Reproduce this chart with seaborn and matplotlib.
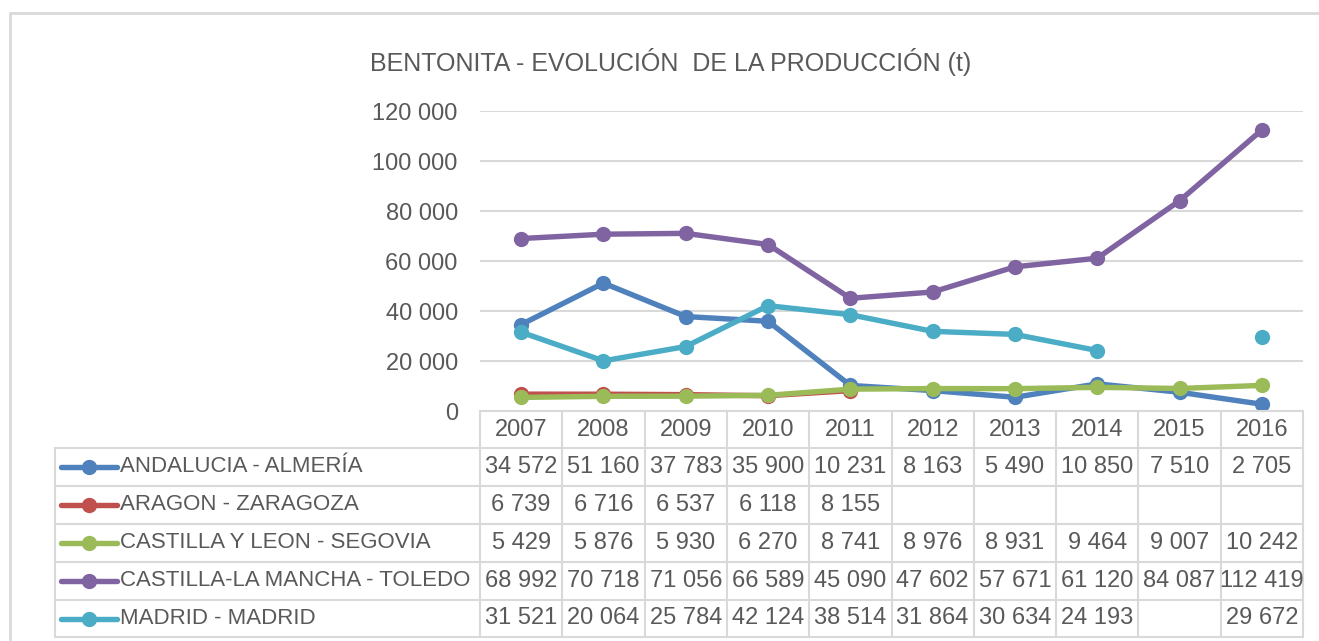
import numpy as np
import pandas as pd
import matplotlib
matplotlib.use("Agg")
import matplotlib.pyplot as plt
from matplotlib.lines import Line2D
from matplotlib import transforms
import seaborn as sns

years = ["2007", "2008", "2009", "2010", "2011", "2012", "2013", "2014", "2015", "2016"]
series_names = [
    "ANDALUCIA - ALMERÍA",
    "ARAGON - ZARAGOZA",
    "CASTILLA Y LEON - SEGOVIA",
    "CASTILLA-LA MANCHA - TOLEDO",
    "MADRID - MADRID",
]
andalucia = [34572, 51160, 37783, 35900, 10231, 8163, 5490, 10850, 7510, 2705]
aragon = [6739, 6716, 6537, 6118, 8155, None, None, None, None, None]
castilla_leon = [5429, 5876, 5930, 6270, 8741, 8976, 8931, 9464, 9007, 10242]
castilla_mancha = [68992, 70718, 71056, 66589, 45090, 47602, 57671, 61120, 84087, 112419]
madrid = [31521, 20064, 25784, 42124, 38514, 31864, 30634, 24193, None, 29672]
series_values = [andalucia, aragon, castilla_leon, castilla_mancha, madrid]
colors = ["#4F81BD", "#C0504D", "#9BBB59", "#8064A2", "#4BACC6"]
title = "BENTONITA - EVOLUCIÓN  DE LA PRODUCCIÓN (t)"

W, H = 1319, 641
TEXT = "#595959"
GRID = "#D9D9D9"

sns.set_theme(style="white")
plt.rcParams["font.family"] = ["Liberation Sans", "DejaVu Sans"]

# long-form data with segment ids so that gaps break the line
rows = []
for name, vals in zip(series_names, series_values):
    seg = 0
    for i, v in enumerate(vals):
        if v is None:
            seg += 1
            continue
        rows.append({"x": i, "value": v, "series": name, "seg": f"{name}-{seg}"})
df = pd.DataFrame(rows)

fig = plt.figure(figsize=(W / 100, H / 100), dpi=100)
ax = fig.add_axes([480 / W, 1 - 411 / H, 823 / W, 300 / H])

sns.lineplot(data=df, x="x", y="value", hue="series", units="seg", estimator=None,
             palette=dict(zip(series_names, colors)), hue_order=series_names,
             marker="o", markersize=11, markeredgewidth=0, linewidth=3.9,
             legend=False, ax=ax, sort=True, clip_on=False, zorder=3)

ax.set_xlim(-0.5, len(years) - 0.5)
ax.set_ylim(0, 120000)
ax.set_yticks(np.arange(0, 120001, 20000))
ax.set_yticklabels([f"{int(t):,}".replace(",", " ") for t in ax.get_yticks()],
                   color=TEXT, fontsize=17)
ax.tick_params(axis="y", length=0, pad=16)
ax.set_xticks([])
ax.set_xlabel("")
ax.set_ylabel("")
for s in ax.spines.values():
    s.set_visible(False)
ax.grid(axis="y", color=GRID, linewidth=1.5)
ax.set_axisbelow(True)

fig.text(671 / W, 1 - 62 / H, title, ha="center", va="center", fontsize=18, color=TEXT)

# chart border
fig.add_artist(Line2D([10 / W, 10 / W], [1 - 13 / H, 0], transform=fig.transFigure, color=GRID, lw=2))
fig.add_artist(Line2D([10 / W, 1], [1 - 13 / H, 1 - 13 / H], transform=fig.transFigure, color=GRID, lw=2))

# data table
blend = transforms.blended_transform_factory(ax.transData, fig.transFigure)
row_edges = [411, 448, 486, 524, 562, 600, 637]
fy = lambda y: 1 - y / H
tab_left = 55 / W
# horizontal lines
fig.add_artist(Line2D([-0.5, len(years) - 0.5], [fy(411), fy(411)], transform=blend, color=GRID, lw=1.5))
for y in row_edges[1:]:
    fig.add_artist(Line2D([tab_left, 1303 / W], [fy(y), fy(y)], transform=fig.transFigure, color=GRID, lw=1.5))
# vertical lines
for i in range(len(years) + 1):
    fig.add_artist(Line2D([i - 0.5, i - 0.5], [fy(411), fy(637)], transform=blend, color=GRID, lw=1.5))
fig.add_artist(Line2D([tab_left, tab_left], [fy(448), fy(637)], transform=fig.transFigure, color=GRID, lw=1.5))

# header
for i, yr in enumerate(years):
    fig.text(i, fy(430), yr, transform=blend, ha="center", va="center", fontsize=17, color=TEXT)

# rows
for r, (name, vals, col) in enumerate(zip(series_names, series_values, colors)):
    yc = fy((row_edges[r + 1] + row_edges[r + 2]) / 2)
    fig.add_artist(Line2D([61 / W, 117 / W], [yc, yc], transform=fig.transFigure,
                          color=col, lw=3.9, solid_capstyle="round"))
    fig.add_artist(Line2D([89 / W], [yc], transform=fig.transFigure, color=col,
                          marker="o", markersize=11, markeredgewidth=0, linestyle="none"))
    fig.text(120 / W, yc, name, ha="left", va="center", fontsize=16, color=TEXT)
    for i, v in enumerate(vals):
        if v is None:
            continue
        fig.text(i, yc, f"{v:,}".replace(",", " "), transform=blend, ha="center",
                 va="center", fontsize=17, color=TEXT)

fig.savefig("out.png", dpi=100, facecolor="white")
